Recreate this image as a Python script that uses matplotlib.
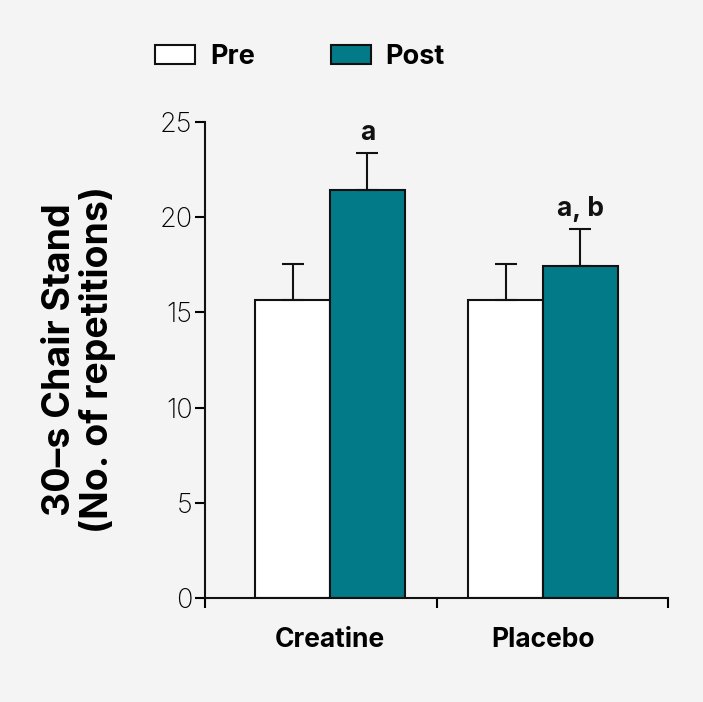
import matplotlib
matplotlib.use("Agg")
import matplotlib.pyplot as plt
import numpy as np
from matplotlib.patches import Patch

groups = ["Creatine", "Placebo"]
pre_vals = [15.65, 15.65]
pre_err = [1.9, 1.9]
post_vals = [21.45, 17.45]
post_err = [1.9, 1.95]
post_labels = ["a", "a, b"]
y_ticks = [0, 5, 10, 15, 20, 25]
ylabel = "30–s Chair Stand\n(No. of repetitions)"

BG = "#f4f4f4"
TEAL = "#037a88"
FONT = "Inter"

fig = plt.figure(figsize=(7.03, 7.02), dpi=100, facecolor=BG)
ax = fig.add_axes([205/703, 1-598/702, 463/703, 476/702])
ax.set_facecolor(BG)

x = np.arange(len(groups))
w = 0.352
ekw = dict(lw=1.5, capsize=8, capthick=1.5, ecolor="#111111")
ax.bar(x - w/2, pre_vals, w, color="white", edgecolor="#111111", linewidth=1.5,
       yerr=[np.zeros(len(pre_err)), pre_err], error_kw=ekw, zorder=2)
ax.bar(x + w/2, post_vals, w, color=TEAL, edgecolor="#111111", linewidth=1.5,
       yerr=[np.zeros(len(post_err)), post_err], error_kw=ekw, zorder=2)

for xi, v, e, lab in zip(x + w/2, post_vals, post_err, post_labels):
    ax.annotate(lab, (xi, v + e), xytext=(0, 5), textcoords="offset points",
                ha="center", va="bottom", fontsize=19, fontweight="bold",
                family=FONT, color="#111111")

xl = (-0.587, 1.587)
ax.set_xlim(*xl)
ax.set_ylim(0, 25)
ax.set_xticks([xl[0], 0.5, xl[1]])
ax.set_xticklabels([])
ax.set_xticks(x, minor=True)
ax.set_xticklabels(groups, minor=True, fontsize=19, fontweight="bold", family=FONT)
ax.tick_params(axis="x", which="minor", length=0, pad=21)
ax.tick_params(axis="x", which="major", length=7, width=1.5, direction="out")
ax.set_yticks(y_ticks)
ax.set_yticklabels([str(t) for t in y_ticks], fontsize=19.5, fontweight="light", family=FONT)
ax.tick_params(axis="y", length=7, width=1.5, direction="out", pad=2)

for s in ["top", "right"]:
    ax.spines[s].set_visible(False)
for s in ["left", "bottom"]:
    ax.spines[s].set_linewidth(1.5)
    ax.spines[s].set_color("#111111")

ax.set_ylabel(ylabel, fontsize=27, fontweight="bold", family=FONT, labelpad=31,
              linespacing=1.05)

handles = [Patch(facecolor="white", edgecolor="#111111", linewidth=1.5, label="Pre"),
           Patch(facecolor=TEAL, edgecolor="#111111", linewidth=1.5, label="Post")]
leg = fig.legend(handles=handles, loc="center left", bbox_to_anchor=(155/703, 1-57/702),
                 ncol=2, frameon=False, prop=dict(family=FONT, weight="bold", size=19.5),
                 handlelength=1.48, handleheight=0.74, handletextpad=0.55,
                 columnspacing=2.8, borderpad=0, borderaxespad=0)

fig.savefig("out.png", dpi=100, facecolor=BG)
